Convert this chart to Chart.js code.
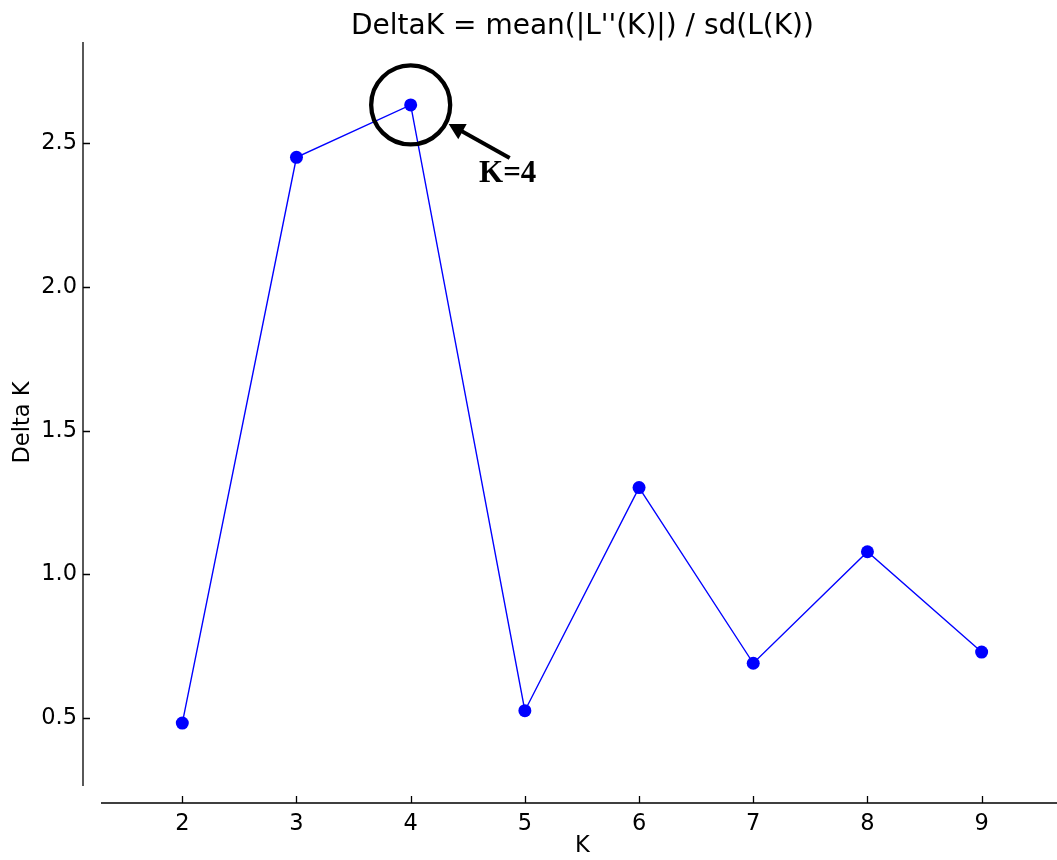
<!DOCTYPE html>
<html>
<head>
<meta charset="utf-8">
<script src="https://cdn.jsdelivr.net/npm/chart.js@4/dist/chart.umd.min.js"></script>
<style>
    html, body { margin: 0; padding: 0; background: #fff; overflow: hidden; }
    /* axes box runs past the window's right edge, as in the cropped original */
    #wrap { width: 1082px; height: 860px; }
</style>
</head>
<body>
<div id="wrap"><canvas id="deltak-chart" width="1082" height="860"></canvas></div>
<script>
// Evanno DeltaK per K
const kValues = [2, 3, 4, 5, 6, 7, 8, 9];
const deltaK = [0.483, 2.451, 2.633, 0.526, 1.302, 0.691, 1.079, 0.730];
const xTicks = [2, 3, 4, 5, 6, 7, 8, 9];
const yTicks = [0.5, 1.0, 1.5, 2.0, 2.5];
const bestK = 4;

const FONT = "'DejaVu Sans', sans-serif";

// matplotlib-style detached spines with inward ticks
const spinesPlugin = {
    id: 'spines',
    afterDraw(chart) {
        const { ctx, chartArea, scales } = chart;
        const { left, right, top, bottom } = chartArea;
        ctx.save();
        ctx.strokeStyle = '#000';
        ctx.lineWidth = 1.3;
        ctx.beginPath();
        ctx.moveTo(left, top);
        ctx.lineTo(left, bottom - 17);
        ctx.moveTo(left + 18, bottom);
        ctx.lineTo(right, bottom);
        scales.y.ticks.forEach((t) => {
            const py = Math.round(scales.y.getPixelForValue(t.value)) + 0.5;
            ctx.moveTo(left, py);
            ctx.lineTo(left + 7, py);
        });
        scales.x.ticks.forEach((t) => {
            const px = Math.round(scales.x.getPixelForValue(t.value)) + 0.5;
            ctx.moveTo(px, bottom);
            ctx.lineTo(px, bottom - 7);
        });
        ctx.stroke();
        ctx.restore();
    },
};

// circle + arrow + label pointing at the best K
const bestKPlugin = {
    id: 'bestK',
    afterDatasetsDraw(chart) {
        const idx = kValues.indexOf(bestK);
        const pt = chart.getDatasetMeta(0).data[idx];
        if (!pt) return;
        const { ctx } = chart;
        const cx = pt.x;
        const cy = pt.y;
        ctx.save();
        ctx.strokeStyle = '#000';
        ctx.fillStyle = '#000';
        ctx.lineWidth = 4.3;
        ctx.beginPath();
        ctx.arc(cx, cy, 39.5, 0, Math.PI * 2);
        ctx.stroke();

        // arrow
        const x0 = cx + 99, y0 = cy + 53;
        const x1 = cx + 38, y1 = cy + 19;
        const ang = Math.atan2(y1 - y0, x1 - x0);
        const head = 18;
        ctx.lineWidth = 4;
        ctx.beginPath();
        ctx.moveTo(x0, y0);
        ctx.lineTo(x1 - Math.cos(ang) * 10, y1 - Math.sin(ang) * 10);
        ctx.stroke();
        ctx.beginPath();
        ctx.moveTo(x1, y1);
        ctx.lineTo(x1 - head * Math.cos(ang - 0.5), y1 - head * Math.sin(ang - 0.5));
        ctx.lineTo(x1 - head * Math.cos(ang + 0.5), y1 - head * Math.sin(ang + 0.5));
        ctx.closePath();
        ctx.fill();

        ctx.font = "bold 31px 'Liberation Serif', serif";
        ctx.textAlign = 'center';
        ctx.textBaseline = 'middle';
        ctx.fillText('K=' + bestK, cx + 97, cy + 69);
        ctx.restore();
    },
};

new Chart(document.getElementById('deltak-chart'), {
    type: 'line',
    data: {
        datasets: [
            {
                data: kValues.map((k, i) => ({ x: k, y: deltaK[i] })),
                borderColor: '#0000ff',
                borderWidth: 1.4,
                backgroundColor: '#0000ff',
                pointRadius: 6.5,
                pointBorderWidth: 0,
                pointBackgroundColor: '#0000ff',
                tension: 0,
                clip: false,
            },
        ],
    },
    options: {
        responsive: false,
        animation: false,
        layout: { padding: 0, autoPadding: false },
        plugins: {
            legend: { display: false },
            tooltip: { enabled: false },
            title: {
                display: true,
                text: "DeltaK = mean(|L''(K)|) / sd(L(K))",
                color: '#000',
                fullSize: false,
                font: { family: FONT, size: 28, weight: 'normal', lineHeight: 1.0 },
                padding: { top: 12.7, bottom: 1.3 },
            },
        },
        scales: {
            x: {
                type: 'linear',
                min: 1.1305,
                max: 9.879,
                afterBuildTicks: (s) => { s.ticks = xTicks.map((v) => ({ value: v })); },
                afterFit: (s) => { s.height = 57; },
                grid: { display: false, drawTicks: false },
                border: { display: false },
                ticks: {
                    color: '#000',
                    padding: 8,
                    maxRotation: 0,
                    font: { family: FONT, size: 22.5 },
                    callback: (v) => String(v),
                },
                title: {
                    display: true,
                    text: 'K',
                    color: '#000',
                    font: { family: FONT, size: 22.5, lineHeight: 1.2 },
                    padding: { top: 0, bottom: 0 },
                },
            },
            y: {
                type: 'linear',
                min: 0.205,
                max: 2.852,
                afterBuildTicks: (s) => { s.ticks = yTicks.map((v) => ({ value: v })); },
                afterFit: (s) => { s.width = 83; },
                grid: { display: false, drawTicks: false },
                border: { display: false },
                ticks: {
                    color: '#000',
                    padding: 6,
                    font: { family: FONT, size: 22.5 },
                    callback: (v) => v.toFixed(1),
                },
                title: {
                    display: true,
                    text: 'Delta K',
                    color: '#000',
                    font: { family: FONT, size: 22.5, lineHeight: 1.2 },
                    padding: { top: 10, bottom: 0 },
                },
            },
        },
    },
    plugins: [spinesPlugin, bestKPlugin],
});
</script>
</body>
</html>
